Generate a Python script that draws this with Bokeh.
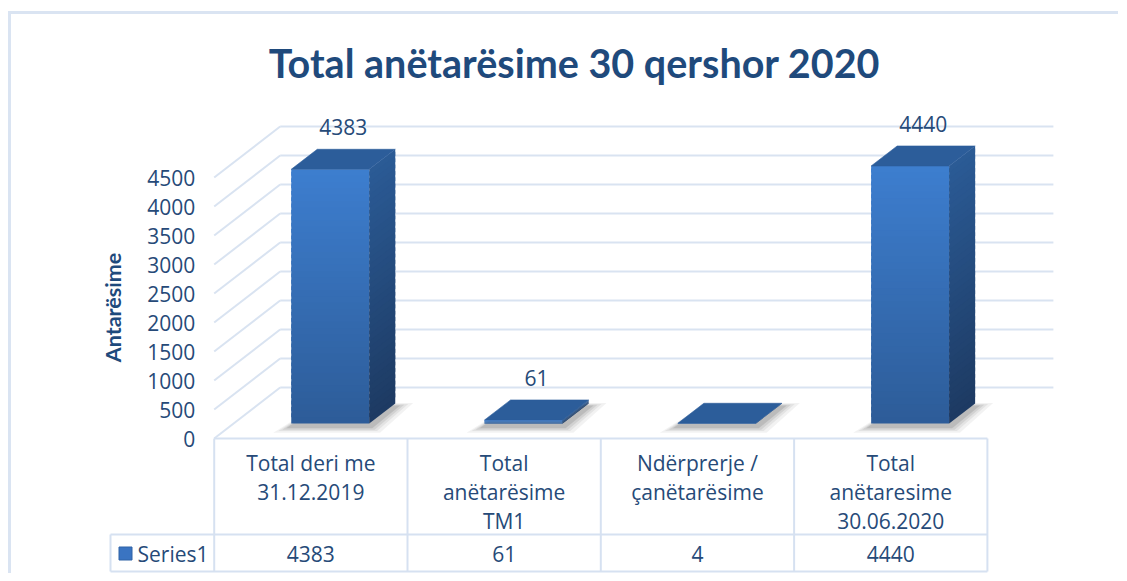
import numpy as np
from bokeh.plotting import figure
from bokeh.models import FixedTicker
from bokeh.core.properties import value
from bokeh.embed import file_html
from bokeh.resources import INLINE

# ---------------- data ----------------
title_text = "Total anëtarësime 30 qershor 2020"
axis_title = "Antarësime"
series_name = "Series1"
categories = [
    "Total deri me\n31.12.2019",
    "Total\nanëtarësime\nTM1",
    "Ndërprerje /\nçanëtarësime",
    "Total\nanëtaresime\n30.06.2020",
]
values = [4383, 61, 4, 4440]
label_shown = [True, True, False, True]
y_ticks = [0, 500, 1000, 1500, 2000, 2500, 3000, 3500, 4000, 4500]

# ---------------- layout constants (pixels) ----------------
FIG_W, FIG_H = 1110, 562
PAGE_LEFT, PAGE_TOP = 11, 14          # page position of the figure canvas
MB_LEFT = 90
X0, W = 213.7, 193.3                  # page x of front-left corner, px per category
Y0, K = 438.0, 0.058                  # page y of front zero, px per value unit
DEPTH_X, DEPTH_Y = 66, 51             # wall depth in px

def dxp(px):
    return px / W

def dyp(px):
    return px / K

def xpage(px):
    return (px - X0) / W - 0.5

def ypage(py):
    return (Y0 - py) / K

frame_l = PAGE_LEFT + MB_LEFT
frame_r = PAGE_LEFT + FIG_W
frame_t = PAGE_TOP
frame_b = PAGE_TOP + FIG_H

TXT = "#264A78"
GRID = "#D9E3F1"
FONT = "Open Sans"
TFONT = "Lato"

p = figure(
    width=FIG_W, height=FIG_H,
    x_range=(xpage(frame_l), xpage(frame_r)),
    y_range=(ypage(frame_b), ypage(frame_t)),
    output_backend="svg", toolbar_location=None,
    x_axis_location=None, y_axis_location="left",
    min_border_left=MB_LEFT, min_border_right=0,
    min_border_top=0, min_border_bottom=0,
    outline_line_color=None,
    background_fill_color="white", border_fill_color="white",
    styles={"border-left": "3px solid #DAE4F2", "border-top": "3px solid #DAE4F2",
            "margin-top": "11px", "margin-left": "8px"},
)
p.xgrid.visible = False
p.ygrid.visible = False

# y axis placed on the front-left edge of the 3D box
ax = p.yaxis[0]
ax.fixed_location = -0.5
ax.ticker = FixedTicker(ticks=y_ticks)
ax.axis_line_color = None
ax.major_tick_line_color = None
ax.minor_tick_line_color = None
ax.major_label_standoff = 13
ax.major_label_text_font = FONT
ax.major_label_text_font_size = "21px"
ax.major_label_text_color = TXT

n = len(values)
ddx_wall, ddy_wall = dxp(DEPTH_X), dyp(DEPTH_Y)

# back wall gridlines
p.segment(x0=[-0.5 + ddx_wall] * len(y_ticks), y0=[t + ddy_wall for t in y_ticks],
          x1=[n - 0.5 + ddx_wall] * len(y_ticks), y1=[t + ddy_wall for t in y_ticks],
          line_color=GRID, line_width=2)
# side wall diagonals
p.segment(x0=[-0.5] * len(y_ticks), y0=y_ticks,
          x1=[-0.5 + ddx_wall] * len(y_ticks), y1=[t + ddy_wall for t in y_ticks],
          line_color=GRID, line_width=2)

# bar geometry
off_x = dxp(19.4)
base = dyp(15)
half_w = dxp(39)
ddx, ddy = dxp(26), dyp(20)


def hex2rgb(h):
    h = h.lstrip("#")
    return np.array([int(h[i:i + 2], 16) for i in (0, 2, 4)], dtype=float)


def lerp(c1, c2, t):
    c = hex2rgb(c1) * (1 - t) + hex2rgb(c2) * t
    return "#%02x%02x%02x" % tuple(int(round(v)) for v in c)


FRONT_TOP, FRONT_BOT = "#3D7ECF", "#2D5C98"
SIDE_TOP, SIDE_BOT = "#2B5B96", "#1D3A62"
TOP_FACE = "#2C5D9A"

# shadows
for e, a in [(18, 0.05), (13, 0.06), (9, 0.08), (5, 0.10)]:
    xs, ys = [], []
    for i, v in enumerate(values):
        xl = i + off_x - half_w
        xr = i + off_x + half_w
        b = base - dyp(3)
        xs.append([xl - dxp(e), xr + dxp(e * 0.6), xr + ddx + dxp(e), xl + ddx + dxp(e * 0.2)])
        ys.append([b - dyp(e * 0.35), b - dyp(e * 0.35), b + ddy + dyp(e * 0.2), b + ddy + dyp(e * 0.2)])
    p.patches(xs=xs, ys=ys, fill_color="black", fill_alpha=a, line_color=None)

N = 40
fl, fr, fb, ft, fc = [], [], [], [], []
sxs, sys_, sc = [], [], []
txs, tys = [], []
for i, v in enumerate(values):
    xl = i + off_x - half_w
    xr = i + off_x + half_w
    for k in range(N):
        b0 = base + v * k / N
        b1 = base + v * min(k + 1.6, N) / N
        t = 1 - (k + 0.5) / N
        fl.append(xl); fr.append(xr); fb.append(b0); ft.append(b1)
        fc.append(lerp(FRONT_TOP, FRONT_BOT, t))
        sxs.append([xr, xr + ddx, xr + ddx, xr])
        sys_.append([b0, b0 + ddy, b1 + ddy, b1])
        sc.append(lerp(SIDE_TOP, SIDE_BOT, t))
    top = base + v
    txs.append([xl, xr, xr + ddx, xl + ddx])
    tys.append([top, top, top + ddy, top + ddy])

p.quad(left=fl, right=fr, bottom=fb, top=ft, fill_color=fc, line_color=None)
p.patches(xs=sxs, ys=sys_, fill_color=sc, line_color=None)
p.patches(xs=txs, ys=tys, fill_color=TOP_FACE, line_color=TOP_FACE, line_width=0.6)

# data labels
lx = [i + off_x + ddx / 2 for i, v in enumerate(values) if label_shown[i]]
ly = [base + v + ddy + dyp(22) for i, v in enumerate(values) if label_shown[i]]
lt = [str(v) for i, v in enumerate(values) if label_shown[i]]
p.text(x=lx, y=ly, text=lt, text_align="center", text_baseline="middle",
       text_font=value(FONT), text_font_size="21px", text_color=TXT)

# title
p.text(x=[xpage(574)], y=[ypage(62)], text=[title_text], text_align="center",
       text_baseline="middle", text_font=value(TFONT), text_font_style="bold",
       text_font_size="39.5px", text_color="#1F4A7C")

# axis title
p.text(x=[xpage(112)], y=[ypage(307)], text=[axis_title], angle=np.pi / 2,
       text_align="center", text_baseline="middle", text_font=value(TFONT),
       text_font_style="bold", text_font_size="21.5px", text_color="#1F4A7C")

# ---------------- data table ----------------
TBL = "#D6E1F1"
row_mid = ypage(534)
row_bot = ypage(571)
cell_left = xpage(110)
# horizontal lines
p.segment(x0=[-0.5, cell_left, cell_left], y0=[0, row_mid, row_bot],
          x1=[n - 0.5] * 3, y1=[0, row_mid, row_bot], line_color=TBL, line_width=2)
# vertical lines
vx = [i - 0.5 for i in range(n + 1)]
p.segment(x0=vx, y0=[0] * len(vx), x1=vx, y1=[row_bot] * len(vx), line_color=TBL, line_width=2)
p.segment(x0=[cell_left], y0=[row_mid], x1=[cell_left], y1=[row_bot], line_color=TBL, line_width=2)

# category header text, one line at a time
cx, cy, ct = [], [], []
line_pages = [462, 491, 520]
for i, c in enumerate(categories):
    for j, line in enumerate(c.split("\n")):
        cx.append(i); cy.append(ypage(line_pages[j])); ct.append(line)
p.text(x=cx, y=cy, text=ct, text_align="center", text_baseline="middle",
       text_font=value(FONT), text_font_size="21px", text_color=TXT)

# value row
p.text(x=list(range(n)), y=[ypage(553)] * n, text=[str(v) for v in values],
       text_align="center", text_baseline="middle", text_font=value(FONT),
       text_font_size="21px", text_color=TXT)

# legend key in the table
p.scatter(x=[xpage(125)], y=[ypage(553)], marker="square", size=13,
          fill_color="#3A74C2", line_color="#2F62A6")
p.text(x=[xpage(137)], y=[ypage(553)], text=[series_name], text_align="left",
       text_baseline="middle", text_font=value(FONT), text_font_size="21px",
       text_color=TXT)

open("out.html", "w").write(file_html(p, INLINE))
